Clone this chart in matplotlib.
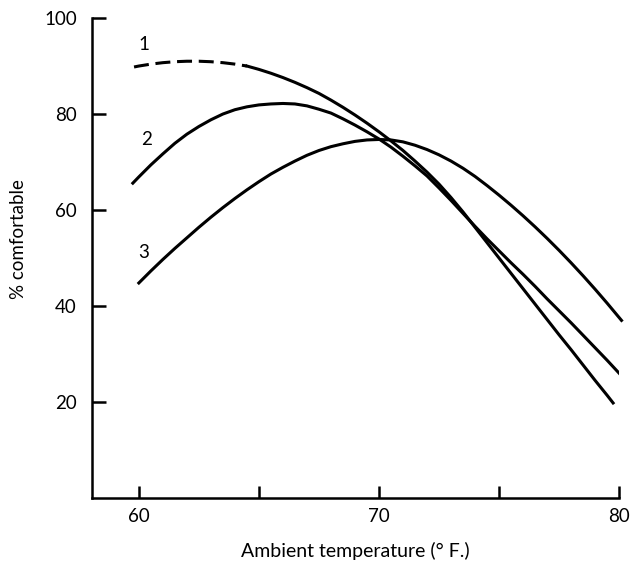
import matplotlib
matplotlib.use("Agg")
import matplotlib.pyplot as plt

# values (deg F, % comfortable)
# curve 1: dashed (extrapolated) part, then solid part
c1_dash_x = [59.8, 60, 60.5, 61, 61.5, 62, 62.5, 63, 63.5, 64, 64.5]
c1_dash_y = [89.8, 90.0, 90.4, 90.7, 90.9, 91.0, 91.0, 90.9, 90.7, 90.4, 90.0]
c1_x = [64.5, 65, 65.5, 66, 66.5, 67, 67.5, 68, 68.5, 69, 69.5, 70, 70.5,
        71, 71.5, 72, 72.5, 73, 73.5, 74, 74.5, 75, 75.5, 76, 76.5, 77,
        77.5, 78, 78.5, 79, 79.5, 79.75]
c1_y = [90.0, 89.3, 88.5, 87.6, 86.6, 85.5, 84.3, 82.9, 81.4, 79.8, 78.1,
        76.3, 74.4, 72.4, 70.2, 67.9, 65.4, 62.6, 59.6, 56.4, 53.2, 50.0,
        46.8, 43.6, 40.4, 37.2, 34.0, 30.9, 27.7, 24.5, 21.4, 19.8]

c2_x = [59.75, 60, 60.5, 61, 61.5, 62, 62.5, 63, 63.5, 64, 64.5, 65, 65.5,
        66, 66.5, 67, 67.5, 68, 68.5, 69, 69.5, 70, 70.5, 71, 71.5, 72,
        72.5, 73, 73.5, 74, 74.5, 75, 75.5, 76, 76.5, 77, 77.5, 78, 78.5,
        79, 79.5, 80]
c2_y = [65.6, 66.9, 69.4, 71.7, 73.9, 75.8, 77.4, 78.8, 80.0, 80.9, 81.5,
        81.9, 82.1, 82.2, 82.1, 81.7, 81.0, 80.2, 79.0, 77.7, 76.3, 74.8,
        73.1, 71.2, 69.2, 67.1, 64.6, 62.0, 59.3, 56.6, 54.0, 51.5, 49.0,
        46.6, 44.1, 41.5, 39.0, 36.5, 33.9, 31.3, 28.7, 26.0]

c3_x = [60, 60.5, 61, 61.5, 62, 62.5, 63, 63.5, 64, 64.5, 65, 65.5, 66,
        66.5, 67, 67.5, 68, 68.5, 69, 69.5, 70, 70.5, 71, 71.5, 72, 72.5,
        73, 73.5, 74, 74.5, 75, 75.5, 76, 76.5, 77, 77.5, 78, 78.5, 79,
        79.5, 80, 80.1]
c3_y = [44.8, 47.3, 49.7, 52.0, 54.2, 56.4, 58.5, 60.5, 62.4, 64.2, 65.9,
        67.5, 68.9, 70.2, 71.4, 72.4, 73.2, 73.8, 74.3, 74.6, 74.7, 74.6,
        74.2, 73.5, 72.6, 71.5, 70.2, 68.7, 67.0, 65.1, 63.1, 61.0, 58.8,
        56.5, 54.1, 51.6, 49.0, 46.3, 43.5, 40.6, 37.6, 37.0]

curve_labels = ["1", "2", "3"]
label_pos = [(60.2, 94.4), (60.3, 74.6), (60.2, 51.2)]

plt.rcParams['font.family'] = ['Lato', 'DejaVu Sans']

fig = plt.figure(figsize=(6.32, 5.62), dpi=100)
ax = fig.add_axes([0.1456, 0.1139, 0.834, 0.854])

lw = 2.2
ax.plot(c1_dash_x, c1_dash_y, color='black', lw=lw, dashes=(4.9, 2.2))
ax.plot(c1_x, c1_y, color='black', lw=lw)
ax.plot(c2_x, c2_y, color='black', lw=lw)
ax.plot(c3_x, c3_y, color='black', lw=lw, clip_on=False)

for t, (x, y) in zip(curve_labels, label_pos):
    ax.text(x, y, t, fontsize=13.5, ha='center', va='center')

ax.set_xlim(58.05, 80)
ax.set_ylim(0, 100)
ax.set_xticks([60, 65, 70, 75, 80])
ax.set_xticklabels(["60", "", "70", "", "80"])
ax.set_yticks([20, 40, 60, 80, 100])

for s in ['top', 'right']:
    ax.spines[s].set_visible(False)
for s in ['left', 'bottom']:
    ax.spines[s].set_linewidth(1.8)

ax.tick_params(axis='y', direction='in', length=10, width=1.8, pad=11, labelsize=13.5)
ax.tick_params(axis='x', direction='in', length=9, width=1.8, pad=7, labelsize=13.5)

ax.set_xlabel("Ambient temperature (° F.)", fontsize=14)
ax.set_ylabel("% comfortable", fontsize=13.5)
ax.xaxis.set_label_coords(0.5, -0.11)
ax.xaxis.label.set_va('center')
ax.yaxis.set_label_coords(-0.14, 0.54)
ax.yaxis.label.set_va('center')

fig.savefig("out.png", dpi=100)
